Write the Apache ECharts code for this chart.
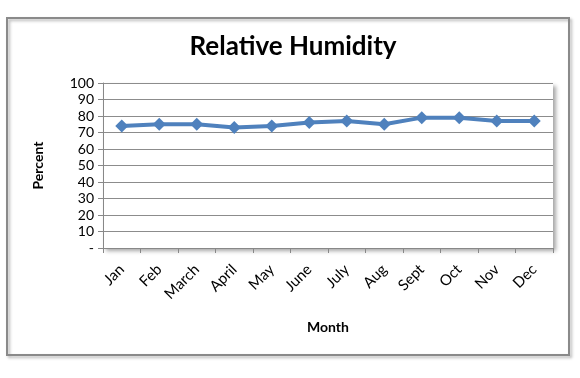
<!DOCTYPE html>
<html>
<head>
<meta charset="utf-8">
<script src="https://cdn.jsdelivr.net/npm/echarts@6/dist/echarts.min.js"></script>
<style>
	html, body { margin: 0; padding: 0; background: #fff; }
	#chart { width: 580px; height: 378px; }
</style>
</head>
<body>
<div id="chart"></div>
<script>
	// 数据
	const months = ["Jan", "Feb", "March", "April", "May", "June", "July", "Aug", "Sept", "Oct", "Nov", "Dec"];
	const humidity = [74, 75, 75, 73, 74, 76, 77, 75, 79, 79, 77, 77];
	const yMin = 0, yMax = 100, yStep = 10;

	const font = "Lato";
	const chart = echarts.init(document.getElementById("chart"), null, { renderer: "canvas" });
	chart.setOption({
		animation: false,
		textStyle: { fontFamily: font },
		title: {
			text: "Relative Humidity",
			left: 288,
			top: 29,
			textAlign: "center",
			textStyle: { fontFamily: font, fontSize: 26, fontWeight: "bold", color: "#000" },
		},
		graphic: [
			{
				type: "rect",
				shape: { x: 7, y: 18, width: 562, height: 337 },
				style: {
					fill: "transparent",
					stroke: "#8a8a8a",
					lineWidth: 2,
					shadowColor: "rgba(0,0,0,0.3)",
					shadowBlur: 3,
					shadowOffsetX: 2,
					shadowOffsetY: 2,
				},
			},
		],
		grid: {
			left: 103,
			right: 27,
			top: 83,
			bottom: 130,
			show: true,
			backgroundColor: "#fff",
			borderWidth: 0,
			shadowColor: "rgba(0,0,0,0.35)",
			shadowBlur: 4,
			shadowOffsetX: 3,
			shadowOffsetY: 3,
		},
		xAxis: {
			type: "category",
			data: months,
			boundaryGap: true,
			name: "Month",
			nameLocation: "middle",
			nameGap: 72,
			nameTextStyle: { fontFamily: font, fontSize: 14, fontWeight: "bold", color: "#000" },
			axisLine: { lineStyle: { color: "#888", width: 1 } },
			axisTick: { show: true, length: 5, lineStyle: { color: "#888" } },
			axisLabel: { rotate: 45, fontSize: 15, color: "#000", margin: 19, interval: 0 },
		},
		yAxis: {
			type: "value",
			min: yMin,
			max: yMax,
			interval: yStep,
			name: "Percent",
			nameLocation: "middle",
			nameGap: 58,
			nameTextStyle: { fontFamily: font, fontSize: 14, fontWeight: "bold", color: "#000" },
			axisLine: { show: true, lineStyle: { color: "#888", width: 1 } },
			axisTick: { show: true, length: 5, lineStyle: { color: "#888" } },
			axisLabel: {
				fontSize: 14,
				color: "#000",
				margin: 9,
				formatter: (v) => (v === 0 ? "-" : v),
			},
			splitLine: { lineStyle: { color: "#8c8c8c", width: 1 } },
		},
		series: [
			{
				type: "line",
				data: humidity,
				symbol: "diamond",
				symbolSize: 13,
				lineStyle: { color: "#4f81bd", width: 4 },
				itemStyle: { color: "#4f81bd" },
			},
		],
	});
</script>
</body>
</html>
